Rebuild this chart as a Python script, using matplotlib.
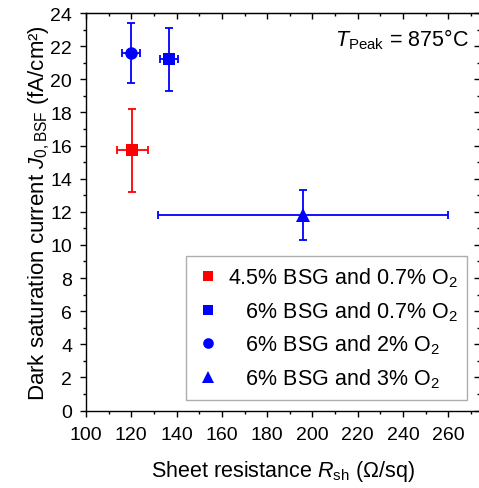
import matplotlib
matplotlib.use("Agg")
import matplotlib.pyplot as plt
from matplotlib.ticker import MultipleLocator

plt.rcParams['font.family'] = ['Liberation Sans', 'DejaVu Sans']
plt.rcParams['mathtext.fontset'] = 'custom'
plt.rcParams['mathtext.rm'] = 'Liberation Sans'
plt.rcParams['mathtext.it'] = 'Liberation Sans:italic'
plt.rcParams['mathtext.bf'] = 'Liberation Sans:bold'

labels = ["4.5% BSG and 0.7% O$_2$", "   6% BSG and 0.7% O$_2$",
          "   6% BSG and 2% O$_2$", "   6% BSG and 3% O$_2$"]
rsh = [120.5, 136.6, 119.8, 196.0]
rsh_err = [7.0, 4.0, 4.0, 64.0]
j0 = [15.7, 21.2, 21.6, 11.8]
j0_err = [2.5, 1.9, 1.8, 1.5]
colors = ["#ff0000", "#0000ff", "#0000ff", "#0000ff"]
markers = ["s", "s", "o", "^"]
msizes = [8.5, 8.5, 9, 10]

fig = plt.figure(figsize=(4.79, 4.89), dpi=100)
ax = fig.add_axes([86/479, 77.5/489, (480-86)/479, (412.5-15)/489])

handles = []
for x, xe, y, ye, c, m, ms, lab in zip(rsh, rsh_err, j0, j0_err, colors, markers, msizes, labels):
    ax.errorbar(x, y, xerr=xe, yerr=ye, fmt='none', ecolor=c, elinewidth=1.3,
                capsize=3, capthick=1.3, zorder=2)
    h, = ax.plot(x, y, linestyle='none', marker=m, color=c, markersize=ms,
                 markeredgewidth=0, label=lab, zorder=3)
    handles.append(h)

ax.set_xlim(100, 274)
ax.set_ylim(0, 24)
ax.xaxis.set_major_locator(MultipleLocator(20))
ax.xaxis.set_minor_locator(MultipleLocator(10))
ax.yaxis.set_major_locator(MultipleLocator(2))
ax.yaxis.set_minor_locator(MultipleLocator(1))
ax.tick_params(axis='both', which='both', labelsize=14, width=1, direction='out')
ax.tick_params(axis='both', which='major', length=4)
ax.tick_params(axis='both', which='minor', length=2.5)
ax.tick_params(axis='x', which='both', pad=7)
ax.tick_params(axis='y', which='both', pad=6)
for sp in ax.spines.values():
    sp.set_linewidth(1.0)

# inward ticks on top and right
axt = ax.secondary_xaxis('top')
axt.xaxis.set_major_locator(MultipleLocator(20))
axt.xaxis.set_minor_locator(MultipleLocator(10))
axt.tick_params(axis='x', which='both', direction='in', labeltop=False, width=1)
axt.tick_params(axis='x', which='major', length=4)
axt.tick_params(axis='x', which='minor', length=2.5)
axr = ax.secondary_yaxis('right')
axr.yaxis.set_major_locator(MultipleLocator(2))
axr.yaxis.set_minor_locator(MultipleLocator(1))
axr.tick_params(axis='y', which='both', direction='in', labelright=False, width=1)
axr.tick_params(axis='y', which='major', length=4)
axr.tick_params(axis='y', which='minor', length=2.5)

ax.set_xlabel(r"Sheet resistance $\mathit{R}_{\mathrm{sh}}$ (Ω/sq)", fontsize=15.5, labelpad=11)
ax.set_ylabel(r"Dark saturation current $\mathit{J}_{0,\mathrm{BSF}}$ (fA/cm²)", fontsize=16, labelpad=-1)

ax.text(0.972, 0.935, r"$\mathit{T}_{\mathrm{Peak}}$ = 875°C", transform=ax.transAxes,
        ha='right', va='center', fontsize=15.5)

leg = ax.legend(handles=handles, loc='lower right', bbox_to_anchor=(0.967, 0.027),
                fontsize=15.5, frameon=True, fancybox=False, edgecolor='#999999',
                handletextpad=0.3, borderpad=0.45, labelspacing=0.47,
                handlelength=1.2, markerscale=0.85, borderaxespad=0)
leg.get_frame().set_linewidth(1.0)

fig.savefig("out.png", dpi=100)
